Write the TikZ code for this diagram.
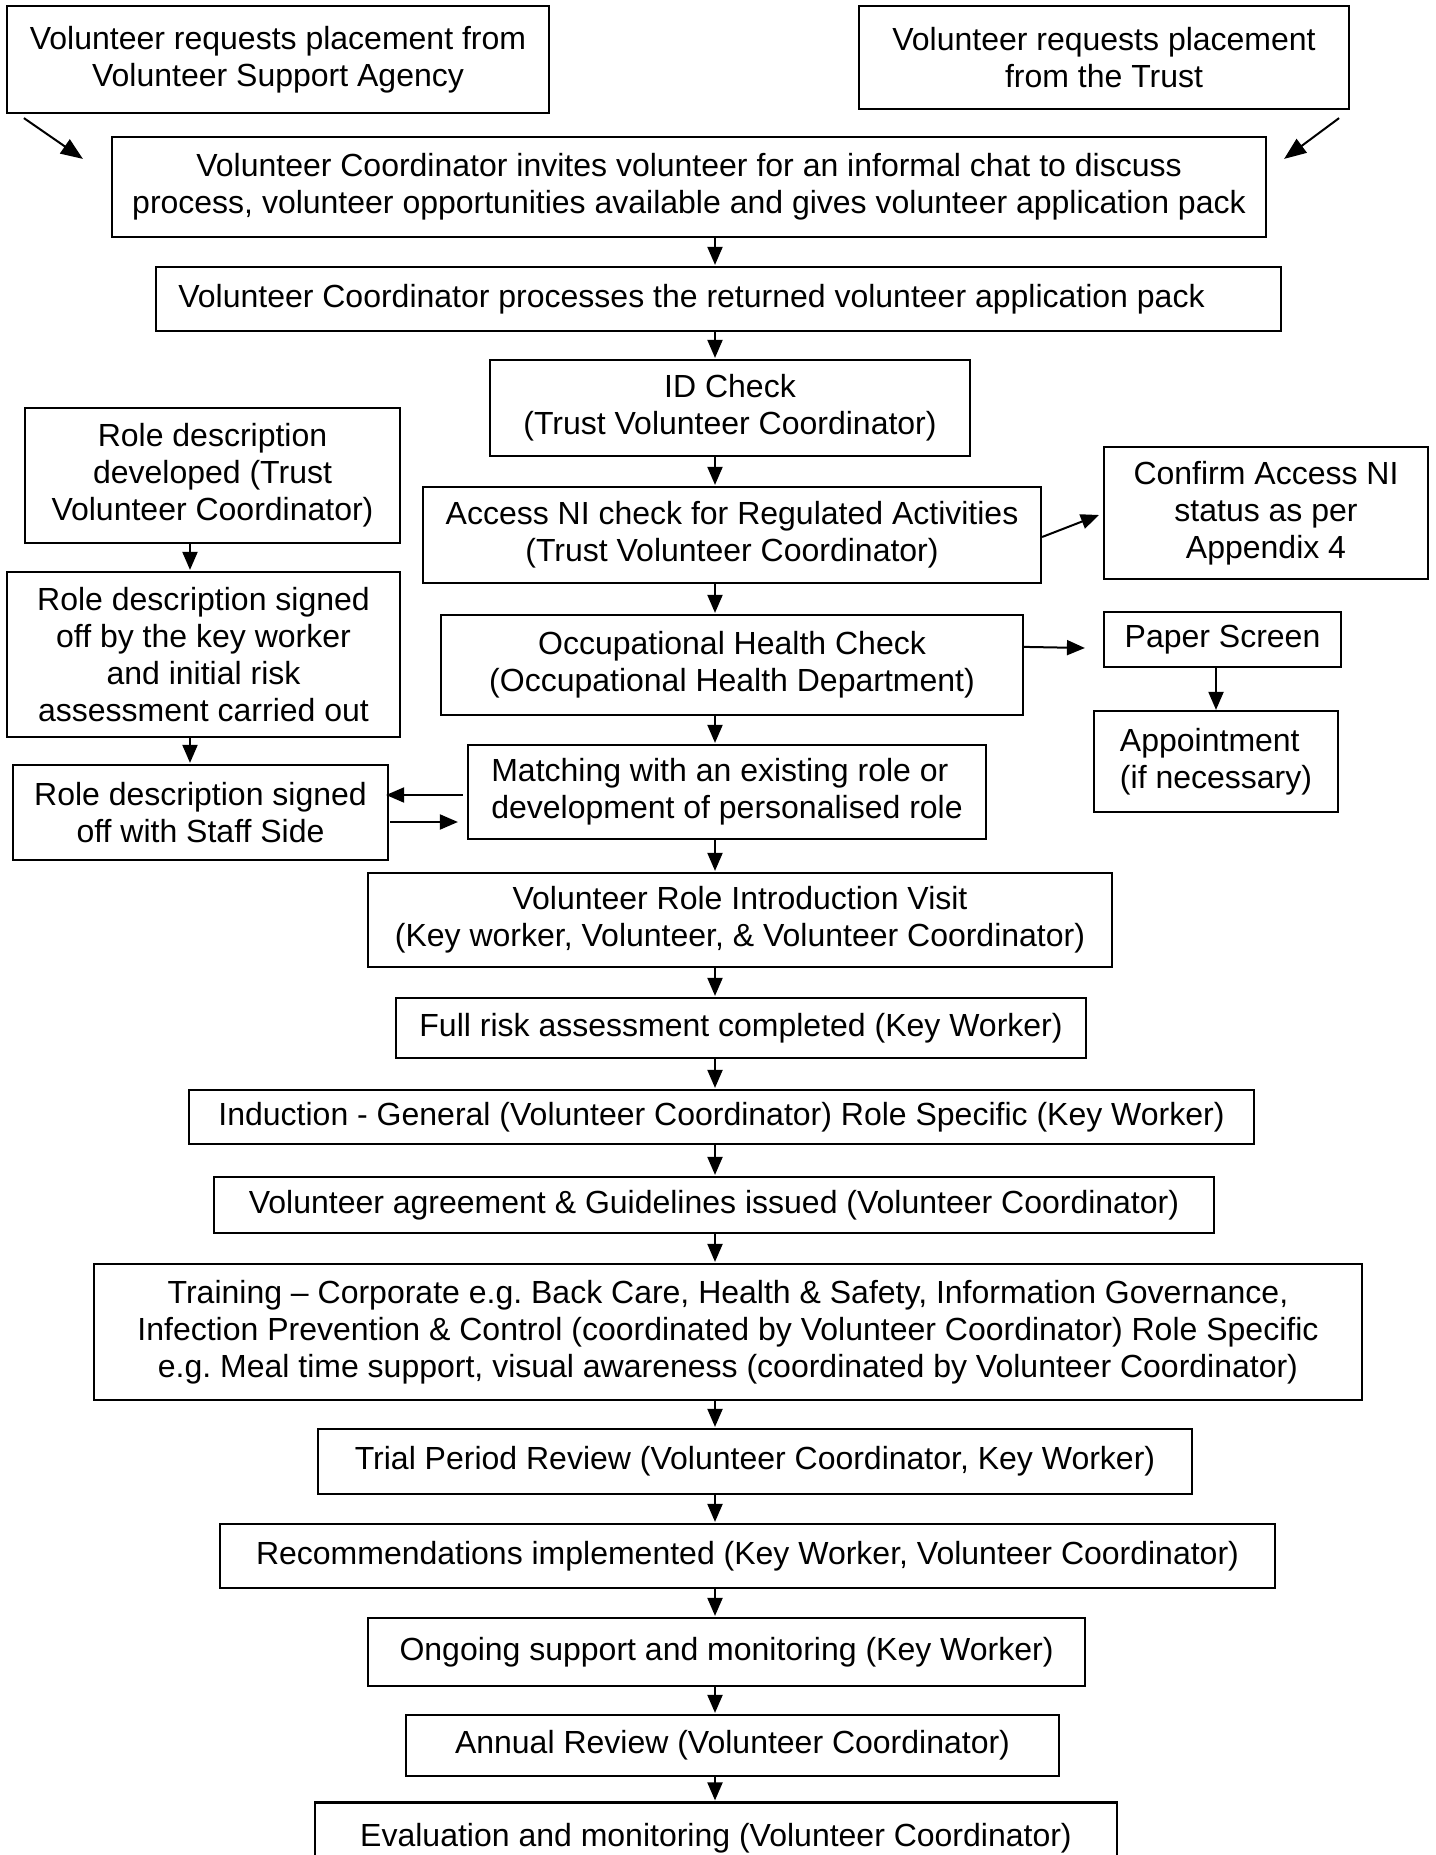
\documentclass[tikz,border=0pt]{standalone}
\usepackage{fontspec}
\setmainfont{Liberation Sans}
\usetikzlibrary{arrows.meta,calc}
\frenchspacing
\newcommand\fbx[7][]{\node[box,#1,minimum width={(#5-#3)*0.5pt},minimum height={(#6-#4)*0.5pt}] (#2) at ({(#3+#5)/2},{(#4+#6)/2}) {#7};}
\begin{document}
\begin{tikzpicture}[x=0.5pt,y=-0.5pt,
  box/.style={draw, line width=1.1pt, inner sep=0pt, align=center, font=\fontsize{16pt}{18.4pt}\selectfont},
  arr/.style={line width=1pt, -{Triangle[length=9pt,width=7.5pt]}},
  darr/.style={line width=1pt, -{Triangle[length=11pt,width=8.5pt]}}]
\useasboundingbox (0,0) rectangle (1435,1855);
\fbx{A}{7}{6}{549}{113}{Volunteer requests placement from\\Volunteer Support Agency}
\fbx{B}{859}{6}{1349}{109}{Volunteer requests placement\\from the Trust}
\fbx{C}{112}{137}{1266}{237}{Volunteer Coordinator invites volunteer for an informal chat to discuss\\process, volunteer opportunities available and gives volunteer application pack}
\fbx{D}{156}{267}{1281}{331}{Volunteer Coordinator processes the returned volunteer application pack\hspace*{27pt}}
\fbx{E}{490}{360}{970}{456}{ID Check\\(Trust Volunteer Coordinator)}
\fbx{F}{25}{408}{400}{543}{Role description\\developed (Trust\\Volunteer Coordinator)}
\fbx{G}{7}{572}{400}{737}{Role description signed\\off by the key worker\\and initial risk\\assessment carried out}
\fbx{H}{13}{765}{388}{860}{Role description signed\\off with Staff Side}
\fbx{I}{423}{487}{1041}{583}{Access NI check for Regulated Activities\\(Trust Volunteer Coordinator)}
\fbx{J}{441}{615}{1023}{715}{Occupational Health Check\\(Occupational Health Department)}
\fbx[align=left]{K}{468}{745}{986}{839}{Matching with an existing role or\\development of personalised role}
\fbx{L}{1104}{447}{1428}{579}{Confirm Access NI\\status as per\\Appendix 4}
\fbx{M}{1104}{612}{1341}{667}{Paper Screen}
\fbx[align=left]{N}{1094}{711}{1338}{812}{Appointment\\(if necessary)}
\fbx{O}{368}{873}{1112}{967}{Volunteer Role Introduction Visit\\(Key worker, Volunteer, \& Volunteer Coordinator)}
\fbx{P}{396}{998}{1086}{1058}{Full risk assessment completed (Key Worker)}
\fbx{Q}{189}{1090}{1254}{1144}{Induction - General (Volunteer Coordinator) Role Specific (Key Worker)}
\fbx{R}{214}{1177}{1214}{1233}{Volunteer agreement \& Guidelines issued (Volunteer Coordinator)}
\fbx{S}{94}{1264}{1362}{1400}{Training – Corporate e.g. Back Care, Health \& Safety, Information Governance,\\Infection Prevention \& Control (coordinated by Volunteer Coordinator) Role Specific\\e.g. Meal time support, visual awareness (coordinated by Volunteer Coordinator)}
\fbx{T}{318}{1429}{1192}{1494}{Trial Period Review (Volunteer Coordinator, Key Worker)}
\fbx{U}{220}{1524}{1275}{1588}{Recommendations implemented (Key Worker, Volunteer Coordinator)}
\fbx{V}{368}{1618}{1085}{1686}{Ongoing support and monitoring (Key Worker)}
\fbx{W}{406}{1715}{1059}{1776}{Annual Review (Volunteer Coordinator)}
\node[box, minimum width={(1117-315)*0.5pt}, text height=21.75pt, text depth=40pt, anchor=base] (X) at (716,1846) {Evaluation and monitoring (Volunteer Coordinator)};
% spine arrows
\coordinate (sp) at (715,0);
\foreach \a/\b in {C/D,D/E,E/I,I/J,J/K,K/O,O/P,P/Q,Q/R,R/S,S/T,T/U,U/V,V/W,W/X}
  \draw[arr] (\a.south -| sp) -- ($(\b.north -| sp)+(0,-1)$);
% left column
\coordinate (ls) at (190,0);
\draw[arr] (F.south -| ls) -- ($(G.north -| ls)+(0,-1)$);
\draw[arr] (G.south -| ls) -- ($(H.north -| ls)+(0,-1)$);
\draw[arr] ($(K.west)+(-4,3)$) -- ($(H.east |- K.west)+(-3,3)$);
\draw[arr] ($(H.east)+(1,9.5)$) -- ($(K.west |- H.east)+(-9,9.5)$);
% top diagonals
\draw[darr] ($(A.south west)+(18,4)$) -- ($(C.north west)+(-28,23)$);
\draw[darr] ($(B.south east)+(-11,8)$) -- ($(C.north east)+(17,23)$);
% right column
\draw[arr] ($(I.east)+(0,2)$) -- ($(L.west)+(-4,2)$);
\draw[arr] ($(J.north east)+(0,33)$) -- ($(M.west)+(-18,8.5)$);
\draw[arr] (M.south -| N.north) -- (N.north);
\end{tikzpicture}
\end{document}
